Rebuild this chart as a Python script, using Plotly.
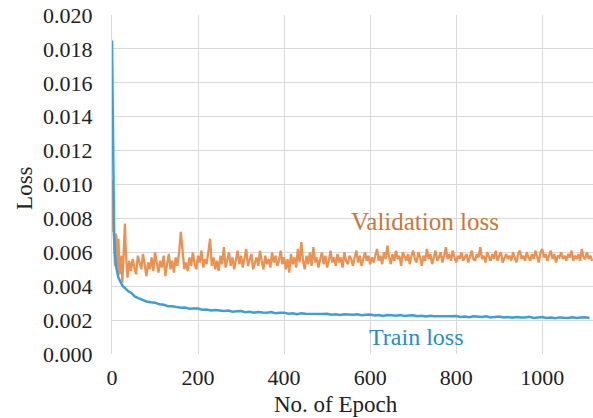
import plotly.graph_objects as go

# ---- data ----
train_epochs_early = [0, 1, 2, 3, 4, 5, 7, 10, 15, 20, 25, 30, 38, 45, 53, 61, 70, 80, 90]
train_loss_early = [0.0185, 0.0150, 0.0118, 0.0094, 0.0078, 0.0068, 0.0058, 0.0051, 0.0045,
                    0.0042, 0.0040, 0.0039, 0.0037, 0.0036, 0.0034, 0.0033, 0.0032, 0.0031,
                    0.00305]
train_loss_late = [
    0.00303, 0.00293, 0.00291, 0.00282, 0.00282, 0.00277, 0.00273, 0.00274, 0.00267, 0.00268,
    0.00268, 0.00261, 0.00262, 0.00257, 0.00260, 0.00257, 0.00254, 0.00257, 0.00250, 0.00252,
    0.00253, 0.00247, 0.00249, 0.00244, 0.00248, 0.00245, 0.00243, 0.00247, 0.00241, 0.00243,
    0.00244, 0.00238, 0.00240, 0.00235, 0.00240, 0.00237, 0.00236, 0.00239, 0.00234, 0.00236,
    0.00238, 0.00232, 0.00235, 0.00230, 0.00235, 0.00232, 0.00231, 0.00234, 0.00229, 0.00231,
    0.00233, 0.00227, 0.00230, 0.00225, 0.00230, 0.00228, 0.00226, 0.00230, 0.00224, 0.00227,
    0.00228, 0.00223, 0.00225, 0.00221, 0.00225, 0.00223, 0.00222, 0.00225, 0.00220, 0.00222,
    0.00224, 0.00219, 0.00221, 0.00217, 0.00222, 0.00219, 0.00218, 0.00222, 0.00216, 0.00219,
    0.00221, 0.00215, 0.00218, 0.00214, 0.00218, 0.00216, 0.00215, 0.00219, 0.00213, 0.00216,
    0.00218, 0.00213, 0.00215, 0.00211, 0.00216, 0.00214, 0.00213, 0.00217, 0.00212, 0.00215,
    0.00217, 0.00212,
]
train_epochs_late = [100 + 10 * i for i in range(len(train_loss_late))]
train_epochs = train_epochs_early + train_epochs_late
train_loss = train_loss_early + train_loss_late

val_epochs_early = list(range(0, 21)) + list(range(22, 41, 2))
val_loss_early = [0.0103, 0.0086, 0.0075, 0.0072, 0.0074, 0.0066, 0.0058, 0.0052, 0.0062,
                  0.0071, 0.0069, 0.0056, 0.0050, 0.0048, 0.0055, 0.0068, 0.0060, 0.0051,
                  0.0047, 0.0053, 0.0049,
                  0.0058, 0.0042, 0.0052, 0.0062, 0.0077, 0.0061, 0.0047, 0.0045, 0.0050,
                  0.0055]

val_loss_rest = [
    0.0049, 0.0056, 0.0051, 0.0047, 0.0058, 0.0053, 0.0050, 0.0059, 0.0052, 0.0046,
    0.0054, 0.0050, 0.0057, 0.0049, 0.0060, 0.0053, 0.0048, 0.0055, 0.0051, 0.0058,
    0.0046, 0.0053, 0.0059, 0.0050, 0.0055, 0.0048, 0.0057, 0.0052, 0.0060, 0.0072,
    0.0058, 0.0050, 0.0054, 0.0049, 0.0057, 0.0052, 0.0060, 0.0053, 0.0050, 0.0058,
    0.0054, 0.0061, 0.0051, 0.0056, 0.0053, 0.0062, 0.0068, 0.0052, 0.0057, 0.0050,
    0.0055, 0.0049, 0.0058, 0.0053, 0.0063, 0.0051, 0.0056, 0.0060, 0.0052, 0.0057,
    0.0050, 0.0055, 0.0061, 0.0053, 0.0058, 0.0051, 0.0056, 0.0062, 0.0052, 0.0055,
    0.0059, 0.0050, 0.0054, 0.0057, 0.0052, 0.0061, 0.0055, 0.0050, 0.0058, 0.0053,
    0.0056, 0.0051, 0.0060, 0.0054, 0.0058, 0.0052, 0.0055, 0.0061, 0.0053, 0.0057,
    0.0050, 0.0056, 0.0048, 0.0059, 0.0053, 0.0057, 0.0051, 0.0062, 0.0054, 0.0066,
    0.0055, 0.0050, 0.0058, 0.0053, 0.0060, 0.0052, 0.0063, 0.0054, 0.0057, 0.0051,
    0.0056, 0.0060, 0.0053, 0.0058, 0.0051, 0.0055, 0.0061, 0.0054, 0.0057, 0.0052,
    0.0059, 0.0054, 0.0057, 0.0051, 0.0060, 0.0055, 0.0053, 0.0058, 0.0056, 0.0052,
    0.0057, 0.0061, 0.0054, 0.0058, 0.0052, 0.0056, 0.0060, 0.0055, 0.0058, 0.0053,
    0.0057, 0.0054, 0.0059, 0.0062, 0.0055, 0.0058, 0.0053, 0.0060, 0.0056, 0.0064,
    0.0057, 0.0053, 0.0059, 0.0055, 0.0061, 0.0056, 0.0058, 0.0052, 0.0060, 0.0057,
    0.0055, 0.0059, 0.0053, 0.0058, 0.0061, 0.0056, 0.0054, 0.0060, 0.0057, 0.0052,
    0.0058, 0.0055, 0.0062, 0.0056, 0.0059, 0.0053, 0.0058, 0.0061, 0.0055, 0.0057,
    0.0060, 0.0054, 0.0058, 0.0063, 0.0056, 0.0059, 0.0055, 0.0061, 0.0057, 0.0054,
    0.0058, 0.0056, 0.0060, 0.0055, 0.0057, 0.0059, 0.0054, 0.0058, 0.0061, 0.0056,
    0.0055, 0.0059, 0.0057, 0.0063, 0.0056, 0.0058, 0.0054, 0.0060, 0.0057, 0.0055,
    0.0059, 0.0056, 0.0061, 0.0055, 0.0058, 0.0060, 0.0054, 0.0057, 0.0059, 0.0056,
    0.0058, 0.0055, 0.0060, 0.0057, 0.0054, 0.0059, 0.0061, 0.0056, 0.0058, 0.0055,
    0.0060, 0.0057, 0.0055, 0.0059, 0.0056, 0.0061, 0.0058, 0.0054, 0.0060, 0.0062,
    0.0057, 0.0059, 0.0055, 0.0058, 0.0061, 0.0056, 0.0059, 0.0054, 0.0058, 0.0057,
    0.0060, 0.0056, 0.0058, 0.0055, 0.0059, 0.0057, 0.0061, 0.0055, 0.0058, 0.0056,
    0.0059, 0.0055, 0.0062, 0.0057, 0.0056, 0.0060, 0.0056, 0.0058, 0.0055,
]
val_epochs_rest = [44 + 4 * i for i in range(len(val_loss_rest))]

val_epochs = val_epochs_early + val_epochs_rest
val_loss = val_loss_early + val_loss_rest

x_ticks = [0, 200, 400, 600, 800, 1000]
y_ticks = [0.000, 0.002, 0.004, 0.006, 0.008, 0.010, 0.012, 0.014, 0.016, 0.018, 0.020]
y_tick_text = ["%.3f" % v for v in y_ticks]

FONT = "Liberation Serif"
BLUE = "#3C9FDB"
ORANGE = "#EB9252"
TXT = "#222222"

fig = go.Figure()
fig.add_trace(go.Scatter(x=val_epochs, y=val_loss, mode="lines",
                         line=dict(color=ORANGE, width=2.3), name="Validation loss"))
fig.add_trace(go.Scatter(x=train_epochs, y=train_loss, mode="lines",
                         line=dict(color=BLUE, width=2.5), name="Train loss"))

fig.add_annotation(x=728, y=0.0078, text="Validation loss", showarrow=False,
                   font=dict(family=FONT, size=25, color="#C8773A"))
fig.add_annotation(x=707, y=0.0010, text="Train loss", showarrow=False,
                   font=dict(family=FONT, size=24, color="#2A8BCB"))

# axis titles
fig.add_annotation(xref="paper", yref="paper", x=(336 - 112) / 481, y=-0.148,
                   text="No. of Epoch", showarrow=False, yanchor="middle",
                   font=dict(family=FONT, size=23, color=TXT))
fig.add_annotation(xref="paper", yref="paper", x=-(112 - 25) / 481, y=0.49,
                   text="Loss", showarrow=False, textangle=-90, xanchor="center",
                   font=dict(family=FONT, size=23, color=TXT))

fig.update_layout(
    width=593, height=418,
    margin=dict(l=112, r=0, t=15, b=64),
    paper_bgcolor="white", plot_bgcolor="white",
    showlegend=False,
    font=dict(family=FONT, size=22, color=TXT),
)
fig.update_xaxes(
    range=[0, 1118], tickvals=x_ticks, showgrid=True, gridcolor="#D9D9D9", gridwidth=1,
    zeroline=False, showline=False, ticks="", ticklabelstandoff=8,
    tickfont=dict(family=FONT, size=22, color=TXT),
)
fig.update_yaxes(
    range=[0, 0.020], tickvals=y_ticks, ticktext=y_tick_text, showgrid=True,
    gridcolor="#D9D9D9", gridwidth=1, zeroline=False, showline=True, linecolor="#D9D9D9",
    ticks="", ticklabelstandoff=14,
    tickfont=dict(family=FONT, size=22, color=TXT),
)

fig.write_html("out.html")
